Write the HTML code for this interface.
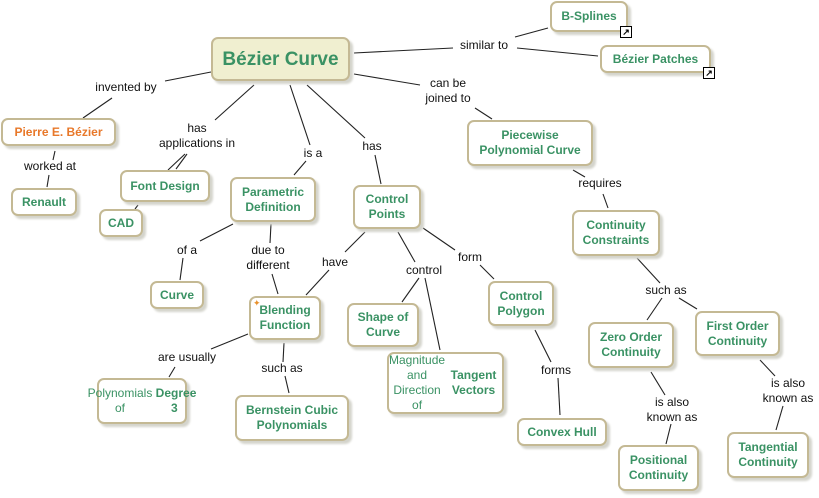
<!DOCTYPE html>
<html><head><meta charset="utf-8"><style>
body{margin:0;width:819px;height:498px;background:#fff;position:relative;overflow:hidden;font-family:"Liberation Sans",sans-serif}
.n{position:absolute;box-sizing:border-box;background:#fff;border:2px solid #c4b994;border-radius:7px;box-shadow:3px 3px 2px #d4d4cc;color:#3a9264;font-weight:bold;font-size:12px;line-height:15px;display:flex;align-items:center;justify-content:center;text-align:center}
.l{position:absolute;font-size:12px;line-height:15px;color:#111;text-align:center;transform:translateX(-50%);white-space:nowrap}
svg{position:absolute;left:0;top:0}
.ic{position:absolute;width:10px;height:10px;border:1px solid #000;background:#fff;font-size:9px;line-height:10px;text-align:center;font-weight:bold}
</style></head><body>
<svg width="819" height="498" stroke="#222" stroke-width="1.1">
<line x1="211" y1="72" x2="165" y2="81"/><line x1="112" y1="98" x2="83" y2="118"/>
<line x1="55" y1="151" x2="53" y2="160"/><line x1="49" y1="175" x2="47" y2="187"/>
<line x1="254" y1="85" x2="215" y2="120"/><line x1="185" y1="154" x2="168" y2="170"/><line x1="187" y1="154" x2="176" y2="169"/><line x1="138" y1="205" x2="135" y2="209"/>
<line x1="290" y1="85" x2="310" y2="145"/><line x1="306" y1="161" x2="294" y2="175"/>
<line x1="307" y1="85" x2="365" y2="138"/><line x1="375" y1="155" x2="381" y2="184"/>
<line x1="354" y1="53" x2="453" y2="48"/><line x1="517" y1="48" x2="598" y2="56"/><line x1="515" y1="37" x2="548" y2="28"/>
<line x1="354" y1="74" x2="420" y2="85"/><line x1="475" y1="108" x2="492" y2="119"/>
<line x1="573" y1="170" x2="585" y2="177"/><line x1="603" y1="194" x2="608" y2="208"/>
<line x1="637" y1="258" x2="660" y2="283"/><line x1="662" y1="298" x2="647" y2="320"/><line x1="679" y1="298" x2="697" y2="309"/>
<line x1="651" y1="372" x2="665" y2="395"/><line x1="671" y1="424" x2="666" y2="444"/>
<line x1="760" y1="360" x2="775" y2="376"/><line x1="783" y1="406" x2="776" y2="430"/>
<line x1="233" y1="224" x2="200" y2="241"/><line x1="183" y1="258" x2="180" y2="280"/>
<line x1="271" y1="224" x2="270" y2="243"/><line x1="272" y1="274" x2="278" y2="294"/>
<line x1="365" y1="232" x2="345" y2="252"/><line x1="329" y1="270" x2="306" y2="295"/>
<line x1="398" y1="232" x2="415" y2="262"/><line x1="419" y1="278" x2="402" y2="302"/><line x1="425" y1="278" x2="440" y2="350"/>
<line x1="423" y1="228" x2="455" y2="250"/><line x1="480" y1="265" x2="494" y2="279"/>
<line x1="535" y1="330" x2="551" y2="362"/><line x1="558" y1="378" x2="560" y2="415"/>
<line x1="248" y1="334" x2="211" y2="349"/><line x1="175" y1="367" x2="169" y2="377"/>
<line x1="284" y1="343" x2="283" y2="362"/><line x1="285" y1="376" x2="289" y2="393"/>
</svg>
<div class="n" style="left:211px;top:37px;width:139px;height:44px;background:#f0efd0;font-size:19px">Bézier Curve</div>
<div class="n" style="left:550px;top:1px;width:78px;height:31px">B-Splines</div>
<div class="ic" style="left:620px;top:26px">↗</div>
<div class="n" style="left:600px;top:45px;width:111px;height:28px">Bézier Patches</div>
<div class="ic" style="left:703px;top:67px">↗</div>
<div class="n" style="left:1px;top:118px;width:115px;height:28px;color:#e8782a">Pierre E. Bézier</div>
<div class="n" style="left:11px;top:188px;width:66px;height:28px">Renault</div>
<div class="n" style="left:120px;top:170px;width:90px;height:32px">Font Design</div>
<div class="n" style="left:99px;top:209px;width:44px;height:28px">CAD</div>
<div class="n" style="left:230px;top:177px;width:86px;height:45px">Parametric<br>Definition</div>
<div class="n" style="left:353px;top:185px;width:68px;height:44px">Control<br>Points</div>
<div class="n" style="left:467px;top:120px;width:126px;height:46px">Piecewise<br>Polynomial Curve</div>
<div class="n" style="left:572px;top:210px;width:88px;height:46px">Continuity<br>Constraints</div>
<div class="n" style="left:150px;top:281px;width:54px;height:28px">Curve</div>
<div class="n" style="left:249px;top:296px;width:72px;height:44px">Blending<br>Function</div>
<div style="position:absolute;left:253px;top:298px;color:#e8902a;font-size:9px">✦</div>
<div class="n" style="left:347px;top:303px;width:72px;height:44px">Shape of<br>Curve</div>
<div class="n" style="left:387px;top:352px;width:117px;height:62px;font-weight:normal">Magnitude and<br>Direction of<br><b>Tangent Vectors</b></div>
<div class="n" style="left:488px;top:281px;width:66px;height:45px">Control<br>Polygon</div>
<div class="n" style="left:97px;top:378px;width:90px;height:46px;font-weight:normal">Polynomials<br>of <b>&nbsp;Degree 3</b></div>
<div class="n" style="left:235px;top:395px;width:114px;height:46px">Bernstein Cubic<br>Polynomials</div>
<div class="n" style="left:517px;top:418px;width:90px;height:28px">Convex Hull</div>
<div class="n" style="left:588px;top:322px;width:86px;height:46px">Zero Order<br>Continuity</div>
<div class="n" style="left:695px;top:311px;width:85px;height:45px">First Order<br>Continuity</div>
<div class="n" style="left:618px;top:445px;width:81px;height:46px">Positional<br>Continuity</div>
<div class="n" style="left:727px;top:432px;width:82px;height:46px">Tangential<br>Continuity</div>
<div class="l" style="left:126px;top:80px">invented by</div>
<div class="l" style="left:50px;top:159px">worked at</div>
<div class="l" style="left:197px;top:121px">has<br>applications in</div>
<div class="l" style="left:313px;top:146px">is a</div>
<div class="l" style="left:372px;top:139px">has</div>
<div class="l" style="left:484px;top:38px">similar to</div>
<div class="l" style="left:448px;top:76px">can be<br>joined to</div>
<div class="l" style="left:600px;top:176px">requires</div>
<div class="l" style="left:666px;top:283px">such as</div>
<div class="l" style="left:672px;top:395px">is also<br>known as</div>
<div class="l" style="left:788px;top:376px">is also<br>known as</div>
<div class="l" style="left:187px;top:243px">of a</div>
<div class="l" style="left:268px;top:243px">due to<br>different</div>
<div class="l" style="left:335px;top:255px">have</div>
<div class="l" style="left:424px;top:263px">control</div>
<div class="l" style="left:470px;top:250px">form</div>
<div class="l" style="left:556px;top:363px">forms</div>
<div class="l" style="left:187px;top:350px">are usually</div>
<div class="l" style="left:282px;top:361px">such as</div>
</body></html>
